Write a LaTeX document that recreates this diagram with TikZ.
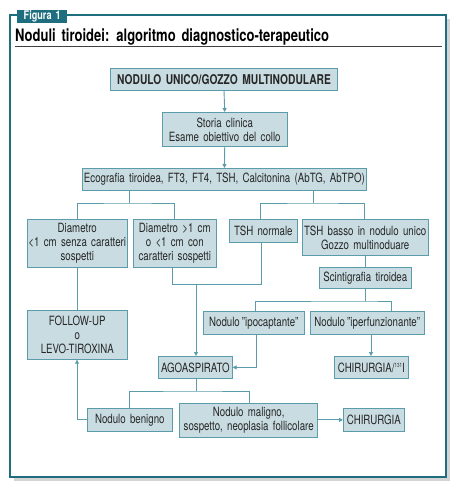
\documentclass[tikz,border=0pt]{standalone}
\usepackage{fontspec}
\setmainfont{TeX Gyre Heros}[FakeStretch=0.76, WordSpace=1.6]
\usetikzlibrary{arrows.meta}
\definecolor{frame}{HTML}{1E6E80}
\definecolor{boxfill}{HTML}{C8DCE1}
\definecolor{boxline}{HTML}{5A9CAA}
\definecolor{shadow}{HTML}{D4D4D4}
\tikzset{
  bx/.style={draw=boxline, fill=boxfill, line width=0.9bp, inner sep=0pt, align=center,
    font=\fontsize{12.8}{14}\selectfont, text=black!85},
  ln/.style={draw=boxline, line width=0.9bp},
  ar/.style={ln, -{Triangle[length=4bp,width=4bp]}},
}
\newcommand{\boxat}[6]{% name, x1,y1,x2,y2, text
  \node[bx, minimum width=#4-#2, minimum height=#5-#3, anchor=north west] (#1) at (#2,#3) {#6};}
\begin{document}
\begin{tikzpicture}[x=1bp,y=-1bp]
\useasboundingbox (0,0) rectangle (455,484);
% shadow and frame
\fill[shadow] (14,19) rectangle (450,481);
\draw[frame, fill=white, line width=1.6bp] (10,15) rectangle (446,477);
\node[fill=frame, text=white, anchor=north west, minimum width=50bp, minimum height=13bp, inner sep=0pt,
  font=\bfseries\fontsize{12}{12}\selectfont] (tab) at (17,9.5) {Figura 1};
\node[anchor=base west, inner sep=0pt, font=\bfseries\fontsize{17.2}{17.2}\selectfont, text=black] (title) at (15,42) {Noduli tiroidei: algoritmo diagnostico-terapeutico};
\draw[black!75, line width=0.9bp] (15,46.5) -- (442,46.5);

\boxat{n1}{110}{68}{338}{90}{\bfseries\fontsize{13.5}{14}\selectfont NODULO UNICO/GOZZO MULTINODULARE}
\boxat{n2}{162}{112}{287}{146}{Storia clinica\\Esame obiettivo del collo}
\boxat{n3}{82}{168}{367}{190}{Ecografia tiroidea, FT3, FT4, TSH, Calcitonina (AbTG, AbTPO)}
\boxat{n4}{27}{219}{127}{267}{Diametro\\<1 cm senza caratteri\\sospetti}
\boxat{n5}{133}{219}{216}{267}{Diametro >1 cm\\o <1 cm con\\caratteri sospetti}
\boxat{n6}{229}{219}{297}{242}{TSH normale}
\boxat{n7}{302}{219}{428}{255}{TSH basso in nodulo unico\\Gozzo multinoduare}
\boxat{n8}{319}{267}{411}{288}{Scintigrafia tiroidea}
\boxat{n9}{203}{311}{304}{334}{Nodulo\,''ipocaptante''}
\boxat{n10}{310}{311}{424}{334}{Nodulo\,''iperfunzionante''}
\boxat{n11}{27}{310}{127}{359}{FOLLOW-UP\\o\\LEVO-TIROXINA}
\boxat{n12}{158}{356}{232}{378}{AGOASPIRATO}
\boxat{n13}{334}{356}{408}{378}{CHIRURGIA/\raisebox{0.7ex}{\fontsize{6}{6}\selectfont 131}I}
\boxat{n14}{87}{408}{172}{431}{Nodulo benigno}
\boxat{n15}{179}{403}{318}{437}{Nodulo maligno,\\sospetto, neoplasia follicolare}
\boxat{n16}{343}{408}{404}{431}{CHIRURGIA}

% connectors
\draw[ar] (n1.south) -- (n2.north);
\draw[ar] (n2.south) -- (n3.north);
\draw[ln] (n3.south -| 129,0) -- (129,203) coordinate (b1);
\draw[ln] (n4.north) |- (b1) -| (n5.north);
\draw[ln] (n3.south -| 313,0) -- (313,203) coordinate (b2);
\draw[ln] (n6.north -| 260,0) |- (b2) -| (n7.north -| 364,0);
\draw[ln] (n4.south -| 77,0) -- (n11.north -| 77,0);
\draw[ln] (n5.south -| 172,0) |- (261,284) coordinate (b3) -- (n6.south -| 261,0);
\draw[ar] (196,284) -- (n12.north -| 196,0);
\draw[ln] (n7.south -| 365,0) -- (n8.north -| 365,0);
\draw[ln] (n8.south -| 365,0) -- (365,301) coordinate (b4);
\draw[ln] (n9.north -| 255,0) |- (b4) -| (n10.north -| 391,0);
\draw[ar] (n9.south -| 256,0) |- (n12.east);
\draw[ar] (n10.south -| 371,0) -- (n13.north -| 371,0);
\draw[ln] (n12.south -| 196,0) -- (196,391) coordinate (b5);
\draw[ln] (n14.north -| 129,0) |- (b5) -| (n15.north -| 249,0);
\draw[ar] (n14.west) -| (n11.south -| 77,0);
\draw[ar] (n15.east |- n16.west) -- (n16.west);
\end{tikzpicture}
\end{document}
